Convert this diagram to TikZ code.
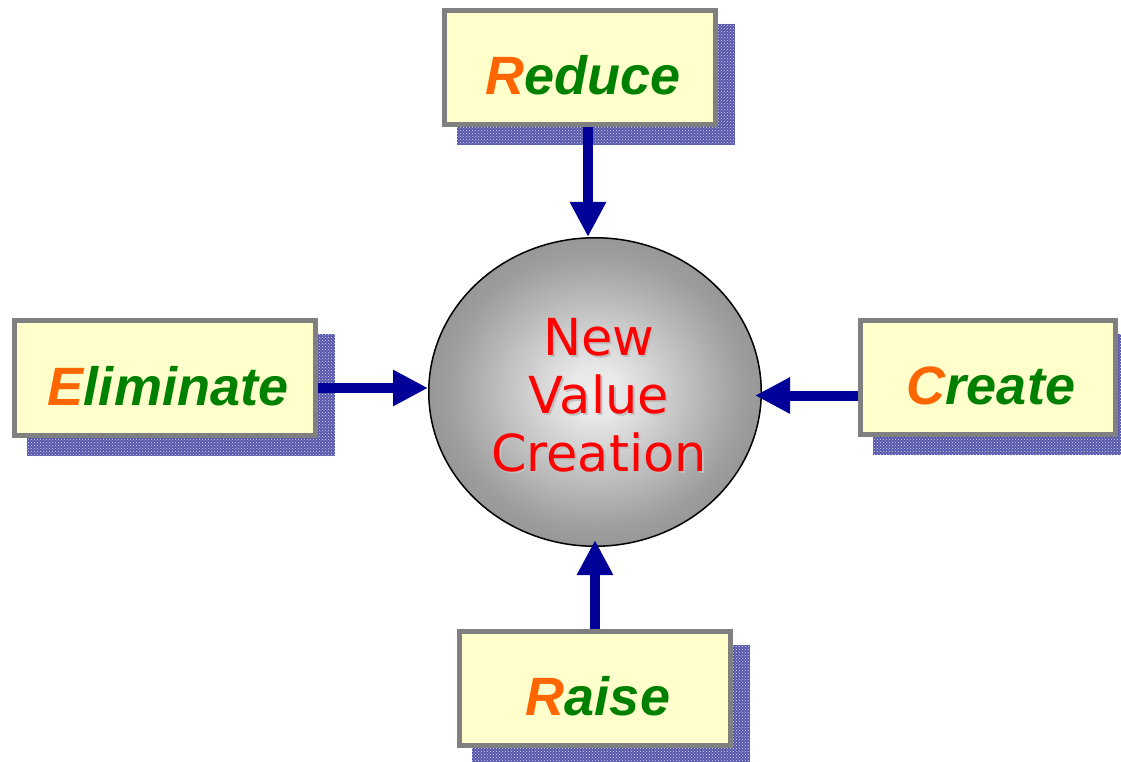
\documentclass[tikz,border=0pt]{standalone}
\usepackage{fontspec}
\usetikzlibrary{arrows.meta,shapes.geometric,patterns,backgrounds,calc}
\newfontfamily\lblfont{Liberation Sans}
\newfontfamily\nvcfont{DejaVu Sans}
\definecolor{boxfill}{HTML}{FFFFCC}
\definecolor{boxline}{HTML}{808080}
\definecolor{lblorange}{HTML}{FF6600}
\definecolor{lblgreen}{HTML}{008000}
\definecolor{arrowblue}{HTML}{000099}
\definecolor{shadowbase}{HTML}{5656AC}
\pgfdeclareradialshading{ballshade}{\pgfpoint{0bp}{0bp}}{color(0bp)=(black!7); color(4bp)=(black!9); color(22bp)=(black!38); color(30bp)=(black!45); color(75bp)=(black!45)}
\begin{document}
\begin{tikzpicture}[x=1pt,y=-1pt,
  boxnode/.style={rectangle, draw=boxline, line width=5pt, fill=boxfill, inner sep=0pt,
    text height=54pt, text depth=0pt, text=lblgreen,
    font=\lblfont\bfseries\itshape\fontsize{54}{60}\selectfont},
  arr/.style={draw=arrowblue, line width=10pt, -{Triangle[width=34pt,length=35pt]}},
  nvcstyle/.style={font=\nvcfont\fontsize{51}{58}\selectfont, align=center, inner sep=0pt},
  shadowfill/.style={fill=shadowbase},
  shadowdots/.style={pattern=crosshatch dots, pattern color=white!85!arrowblue}]
\useasboundingbox (0,0) rectangle (1121,762);

% central ellipse
\node[ellipse, draw=black, line width=1.5pt, shade, shading=ballshade,
      minimum width=332.5pt, minimum height=308.5pt, inner sep=0pt] (nvc) at (595,392) {};
\node[nvcstyle, text=black!25] (nvcshadow) at (601,397) {New\\Value\\Creation};
\node[nvcstyle, text=red] (nvctext) at (599,395) {New\\Value\\Creation};

% boxes
\node[boxnode, minimum width=271pt, minimum height=114pt] (reduce) at (580,67.5)
  {\hspace{6pt}\textcolor{lblorange}{R}educe};
\node[boxnode, minimum width=301pt, minimum height=115pt] (elim) at (165,378)
  {\hspace{6pt}\textcolor{lblorange}{E}liminate};
\node[boxnode, minimum width=255pt, minimum height=114pt] (create) at (988,377.5)
  {\hspace{6pt}\textcolor{lblorange}{C}reate};
\node[boxnode, minimum width=271pt, minimum height=114pt] (raise) at (595,688.5)
  {\hspace{6pt}\textcolor{lblorange}{R}aise};

% box shadows
\begin{scope}[on background layer]
  \foreach \b in {reduce,elim,create,raise}{
    \fill[shadowfill] ($(\b.north west)+(15,16)$) rectangle ($(\b.south east)+(17,18)$);
    \fill[shadowdots] ($(\b.north west)+(15,16)$) rectangle ($(\b.south east)+(17,18)$);
  }
\end{scope}

% arrows
\coordinate (rs) at ($(reduce.south)+(8,0)$);
\draw[arr] (rs) -- (rs |- nvc.north);
\coordinate (es) at ($(elim.east)+(0,10)$);
\draw[arr] (es) -- (es -| nvc.west);
\coordinate (cs) at ($(create.west)+(0,18)$);
\coordinate (ce) at ($(cs -| nvc.east)+(-7,0)$);
\draw[arr] (cs) -- (ce);
\coordinate (re) at ($(raise.north |- nvc.south)+(0,-7)$);
\draw[arr] (raise.north) -- (re);
\end{tikzpicture}
\end{document}
